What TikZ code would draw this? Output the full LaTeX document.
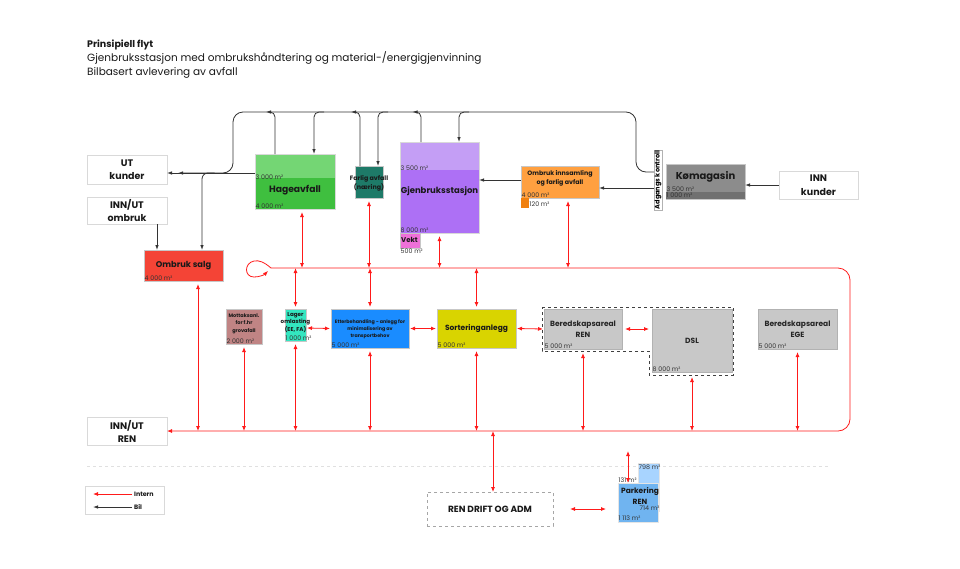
\documentclass[tikz,border=0pt]{standalone}
\usepackage{fontspec}
\setmainfont{Poppins}
\usetikzlibrary{arrows.meta,calc}
\newcommand\fsz[2]{\fontsize{#1}{#2}\selectfont}
\definecolor{hgreen}{HTML}{3FBF3F}
\definecolor{hgreenl}{HTML}{74D674}
\definecolor{tealD}{HTML}{1E7A68}
\definecolor{gpurple}{HTML}{AD70F5}
\definecolor{gpurplel}{HTML}{C49EF5}
\definecolor{vpink}{HTML}{EE70D8}
\definecolor{orange1}{HTML}{FFA040}
\definecolor{orange2}{HTML}{F08010}
\definecolor{kgray}{HTML}{8C8C8C}
\definecolor{kgrayd}{HTML}{707070}
\definecolor{osred}{HTML}{F44436}
\definecolor{mrose}{HTML}{C08484}
\definecolor{laqua}{HTML}{33E6C0}
\definecolor{eblue}{HTML}{1A8CFF}
\definecolor{syellow}{HTML}{D9D400}
\definecolor{bgray}{HTML}{C8C8C8}
\definecolor{plight}{HTML}{A8D4FF}
\definecolor{pmain}{HTML}{70B4F0}
\definecolor{ired}{HTML}{FF1A1A}
\tikzset{
  rect/.style={anchor=north west, inner sep=0pt, outer sep=0pt, draw=black!22, line width=0.5pt},
  wbox/.style={rect, draw=black!15, fill=white, align=center, font=\bfseries\fsz{9.5}{13.5}, text=black!90},
  gbox/.style={rect, fill=bgray, draw=black!30, align=center, font=\bfseries\fsz{7.5}{11}, text=black!85},
  area/.style={inner sep=0.5pt, font=\fsz{6.3}{7}, text=black!80},
  areab/.style={inner sep=0.5pt, font=\fsz{6.3}{7}, text=black!80},
  lbl/.style={align=center, inner sep=0pt, text=black!90},
  intern/.style={draw=ired, line width=0.8pt, -{Latex[length=5pt,width=4pt]}},
  internb/.style={draw=ired, line width=0.8pt, {Latex[length=5pt,width=4pt]}-{Latex[length=5pt,width=4pt]}},
  bil/.style={draw=black!80, line width=0.8pt, -{Latex[length=5pt,width=3.5pt]}}
}
\begin{document}
\begin{tikzpicture}[x=1pt,y=-1pt]
\fill[white] (0,0) rectangle (960,568);
\useasboundingbox (0,0) rectangle (960,568);

% level coordinates
\coordinate (ytop) at (0,112);
\coordinate (yut) at (0,173);
\coordinate (yrt) at (0,268);
\coordinate (yrb) at (0,431);

% title
\node[anchor=north west, align=left, inner sep=0pt, font=\fsz{10.5}{14}, text=black!90] (title) at (87,40)
  {{\bfseries\fsz{9.5}{14}Prinsipiell flyt}\\Gjenbruksstasjon med ombrukshåndtering og material-/energigjenvinning\\Bilbasert avlevering av avfall};

% left white boxes
\node[wbox, minimum width=80pt, minimum height=29pt] (utk) at (87,155) {UT\\kunder};
\node[wbox, minimum width=80pt, minimum height=27pt] (inno) at (87,197) {INN/UT\\ombruk};
\node[wbox, minimum width=80pt, minimum height=28pt, font=\bfseries\fsz{9.5}{13}] (inren) at (87,417) {INN/UT\\REN};
\node[wbox, minimum width=79pt, minimum height=28pt] (innk) at (779,171) {INN\\kunder};

% Hageavfall
\node[rect, draw=none, fill=hgreen, minimum width=80pt, minimum height=55pt] (hage) at (255,154) {};
\fill[hgreenl] (hage.north west) rectangle ($(hage.north east)+(0,24)$);
\draw[black!15, line width=0.4pt] (hage.north west) rectangle (hage.south east);
\node[lbl, font=\bfseries\fsz{9.2}{12}] (hageT) at ($(hage.south)+(0,-19)$) {Hageavfall};
\node[area, anchor=south west] (hageA1) at ($(hage.north west)+(0,26)$) {3 000 m²};
\node[area, anchor=south west] (hageA2) at (hage.south west) {4 000 m²};

% Farlig avfall
\node[rect, fill=tealD, minimum width=28pt, minimum height=32pt] (far) at (355,166) {};
\node[lbl, font=\bfseries\fsz{6.3}{8.5}] (farT) at ($(far.center)+(0,1.5)$) {Farlig avfall\\(næring)};

% Gjenbruksstasjon
\node[rect, fill=gpurple, minimum width=79pt, minimum height=91pt] (gjen) at (400,142) {};
\fill[gpurplel] (gjen.north west) rectangle ($(gjen.north east)+(0,28)$);
\draw[black!15, line width=0.4pt] (gjen.north west) rectangle (gjen.south east);
\node[area, anchor=south west] (gjenA1) at ($(gjen.north west)+(0,29)$) {3 500 m²};
\node[lbl, font=\bfseries\fsz{8.5}{10}] (gjenT) at ($(gjen.north)+(0,49)$) {Gjenbruksstasjon};
\node[area, anchor=south west] (gjenA2) at (gjen.south west) {8 000 m²};
\node[rect, fill=vpink, minimum width=20pt, minimum height=15pt] (vekt) at (gjen.south west) {};
\node[lbl, anchor=west, font=\bfseries\fsz{7}{8}] (vektT) at ($(vekt.west)+(1,-0.5)$) {Vekt};
\node[area, anchor=north west] (vektA) at (vekt.south west) {500 m²};

% Ombruk innsamling
\node[rect, fill=orange1, minimum width=78pt, minimum height=32pt] (ombi) at (521,166) {};
\node[lbl, font=\bfseries\fsz{6.3}{9}] (ombiT) at ($(ombi.north)+(0,12.5)$) {Ombruk innsamling\\og farlig avfall};
\node[area, anchor=south west] (ombiA) at (ombi.south west) {4 000 m²};
\node[rect, draw=none, fill=orange2, minimum width=8pt, minimum height=10pt] (ombiS) at (ombi.south west) {};
\node[area, anchor=west] (ombiSA) at ($(ombiS.east)+(0,1)$) {120 m²};

% Kømagasin
\node[rect, fill=kgray, minimum width=79pt, minimum height=35pt] (kom) at (666,164) {};
\fill[kgrayd] ($(kom.south west)+(0,-7)$) rectangle (kom.south east);
\node[lbl, font=\bfseries\fsz{10}{12}] (komT) at ($(kom.north)+(0,13)$) {Kømagasin};
\node[area, anchor=west] (komA1) at ($(kom.south west)+(0,-10)$) {3 500 m²};
\node[area, anchor=west] (komA2) at ($(kom.south west)+(0,-3.5)$) {1 000 m²};

% Adgangs kontroll
\node[rect, anchor=center, draw=black!30, fill=white, minimum width=8pt, minimum height=60pt] (adg) at (658,180)
  {\rotatebox{90}{\bfseries\fsz{6.6}{7}Adgangs kontroll}};

% Ombruk salg
\node[rect, fill=osred, minimum width=79pt, minimum height=31pt, font=\bfseries\fsz{8.3}{10}, text=black!90] (osalg) at (144,250) {Ombruk salg};
\node[area, anchor=south west] (osalgA) at (osalg.south west) {4 000 m²};

% middle row
\node[rect, fill=mrose, minimum width=36pt, minimum height=35pt] (mott) at (226,309) {};
\node[lbl, font=\bfseries\fsz{5}{7.5}] (mottT) at ($(mott.north)+(0,14.5)$) {Mottaksanl.\\for f.hr\\grovafall};
\node[areab, anchor=south west] (mottA) at (mott.south west) {2 000 m²};

\node[rect, fill=laqua, minimum width=21pt, minimum height=32pt] (lager) at (285,309) {};
\node[lbl, font=\bfseries\fsz{5.6}{7.5}] (lagerT) at ($(lager.north)+(0,13.5)$) {Lager\\omlasting\\(EE, FA)};
\node[areab, anchor=south west] (lagerA) at (lager.south west) {1 000 m²};

\node[rect, fill=eblue, minimum width=78pt, minimum height=39pt] (etter) at (331,309) {};
\node[lbl, font=\bfseries\fsz{4.8}{7}] (etterT) at ($(etter.center)+(0,1)$) {Etterbehandling - anlegg for\\minimalisering av\\transportbehov};
\node[areab, anchor=south west] (etterA) at (etter.south west) {5 000 m²};

\node[rect, fill=syellow, minimum width=79pt, minimum height=39pt, font=\bfseries\fsz{7.5}{9}, text=black!90] (sort) at (437,309) {Sorteringanlegg};
\node[areab, anchor=south west] (sortA) at (sort.south west) {5 000 m²};

\draw[black!75, dashed, line width=0.7pt] (542,307) -- (733,307) -- (733,375) -- (649,375) -- (649,351) -- (542,351) -- cycle;
\node[gbox, minimum width=78pt, minimum height=40pt] (bren) at (544,309) {Beredskapsareal\\REN};
\node[areab, anchor=south west] (brenA) at (bren.south west) {5 000 m²};
\node[gbox, minimum width=80pt, minimum height=63pt] (dsl) at (652,309) {DSL};
\node[areab, anchor=south west] (dslA) at (dsl.south west) {8 000 m²};
\node[gbox, minimum width=79pt, minimum height=40pt] (ege) at (758,309) {Beredskapsareal\\EGE};
\node[areab, anchor=south west] (egeA) at (ege.south west) {5 000 m²};

% bottom
\draw[black!12, dashed, line width=0.6pt] (87,466) -- (830,466);
\node[rect, draw=black!35, dashed, fill=white, minimum width=126pt, minimum height=34pt, font=\bfseries\fsz{9}{10}, text=black!90] (rdrift) at (427,492) {REN DRIFT OG ADM};

\node[rect, fill=plight, draw=black!10, minimum width=21pt, minimum height=48pt] (parkL) at (638,463) {};
\node[rect, fill=pmain, draw=black!10, minimum width=40pt, minimum height=39pt] (park) at (618,483) {};
\node[lbl, font=\bfseries\fsz{7.5}{10.5}] (parkT) at ($(park.center)+(2,-6.5)$) {Parkering\\REN};
\node[area, anchor=west] (parkA1) at ($(parkL.north west)+(0,4)$) {798 m²};
\node[area, anchor=west] (parkA2) at ($(park.north west)+(0,-2.5)$) {131 m²};
\node[area, anchor=west] (parkA3) at ($(parkL.south west)+(1,-2.5)$) {714 m²};
\node[area, anchor=west] (parkA4) at ($(park.south west)+(0,-3.5)$) {1 113 m²};

% legend
\node[rect, draw=black!15, fill=white, minimum width=79pt, minimum height=28pt] (leg) at (85,486) {};
\draw[intern] ($(leg.west)+(47,-6)$) -- ++(-39,0);
\draw[bil] ($(leg.west)+(47,7)$) -- ++(-39,0);
\node[lbl, anchor=west, font=\bfseries\fsz{6.3}{7}] (legI) at ($(leg.west)+(49,-6)$) {Intern};
\node[lbl, anchor=west, font=\bfseries\fsz{6.3}{7}] (legB) at ($(leg.west)+(49,7)$) {Bil};

% ---------- black (Bil) connectors ----------
\draw[bil, rounded corners=10pt] ($(adg.west)+(0,-8)$) -- (636,172) -- (636,112) -- (233,112) -- (233,173) -- (178,173);
\draw[bil] (hage.west |- yut) -- (utk.east |- yut);
\draw[bil, rounded corners=6pt] ($(osalg.north)+(31,-77)$) -| ($(osalg.north)+(18.5,0)$);
\draw[bil] ($(inno.south)+(30,0)$) -- ($(osalg.north)+(-26.5,0)$);
\draw[bil, rounded corners=5pt] ($(hage.north)+(-20,0)$) |- ($(hage.north)+(-29,-42)$);
\draw[bil, rounded corners=5pt] ($(hage.north)+(29,-42)$) -| ($(hage.north)+(19,0)$);
\draw[bil, rounded corners=5pt] ($(far.north)+(-9,0)$) |- ($(far.north)+(-18,-54)$);
\draw[bil, rounded corners=5pt] ($(far.north)+(19,-54)$) -| ($(far.north)+(9,0)$);
\draw[bil, rounded corners=5pt] ($(gjen.north)+(-18.5,0)$) |- ($(gjen.north)+(-27,-30)$);
\draw[bil, rounded corners=5pt] ($(gjen.north)+(29.5,-30)$) -| ($(gjen.north)+(19.5,0)$);
\draw[bil] ($(ombi.west)+(0,-2)$) -- ($(gjen.east)+(0,-7.5)$);
\draw[bil] ($(adg.west)+(0,8)$) -- ($(ombi.east)+(0,6)$);
\draw[bil] (innk.west) -- (kom.east |- innk.west);

% ---------- red (Intern) connectors ----------
\draw[intern, rounded corners=12pt] (271,268) -- (850,268) -- (850,431) -- (inren.east |- yrb);
\draw[intern] (271,268) .. controls (264,262) and (259,260) .. (254,261)
  .. controls (244,263) and (244,277) .. (254,277) .. controls (259,277) and (264,275) .. (268,271);

\draw[internb] ($(hage.south)+(7,3)$) -- ($(hage.south)+(7,59)$);
\draw[internb] ($(far.south)+(0,3)$) -- (far.south |- yrt);
\draw[internb] ($(gjen.south)+(0,3)$) -- (gjen.south |- yrt);
\draw[internb] ($(ombi.south)+(8,3)$) -- ($(ombi.south)+(8,70)$);
\draw[internb] ($(osalg.south)+(14.5,3)$) -- ($(osalg.south)+(14.5,150)$);

\draw[internb] (lager.north |- yrt) -- ($(lager.north)+(0,-2)$);
\draw[internb] (etter.north |- yrt) -- ($(etter.north)+(0,-2)$);
\draw[internb] (sort.north |- yrt) -- ($(sort.north)+(0,-2)$);

\draw[internb] ($(mott.south)+(0,3)$) -- (mott.south |- yrb);
\draw[internb] ($(lager.south)+(0,3)$) -- (lager.south |- yrb);
\draw[internb] ($(etter.south)+(0,3)$) -- (etter.south |- yrb);
\draw[internb] ($(sort.south)+(0,3)$) -- (sort.south |- yrb);
\draw[internb] ($(bren.south)+(0,4)$) -- (bren.south |- yrb);
\draw[internb] ($(dsl.south)+(0,5)$) -- (dsl.south |- yrb);
\draw[internb] ($(ege.south)+(0,3)$) -- (ege.south |- yrb);

\draw[internb] ($(lager.east)+(1,3)$) -- ($(etter.west)+(-1,0)$);
\draw[internb] ($(etter.east)+(1,0)$) -- ($(sort.west)+(-1,0)$);
\draw[internb] ($(sort.east)+(1,0)$) -- ($(bren.west)+(-1,0)$);
\draw[internb] ($(bren.east)+(3,0)$) -- ($(dsl.west |- bren.east)+(-3,0)$);

\draw[internb] ($(rdrift.north)+(3,0)$) -- ($(rdrift.north)+(3,-61)$);
\draw[internb, shorten <=17pt, shorten >=12pt] (rdrift.east) -- (rdrift.east -| park.west);
\draw[internb] ($(park.north west)+(10,-32)$) -- ($(park.north west)+(10,0)$);
\end{tikzpicture}
\end{document}
